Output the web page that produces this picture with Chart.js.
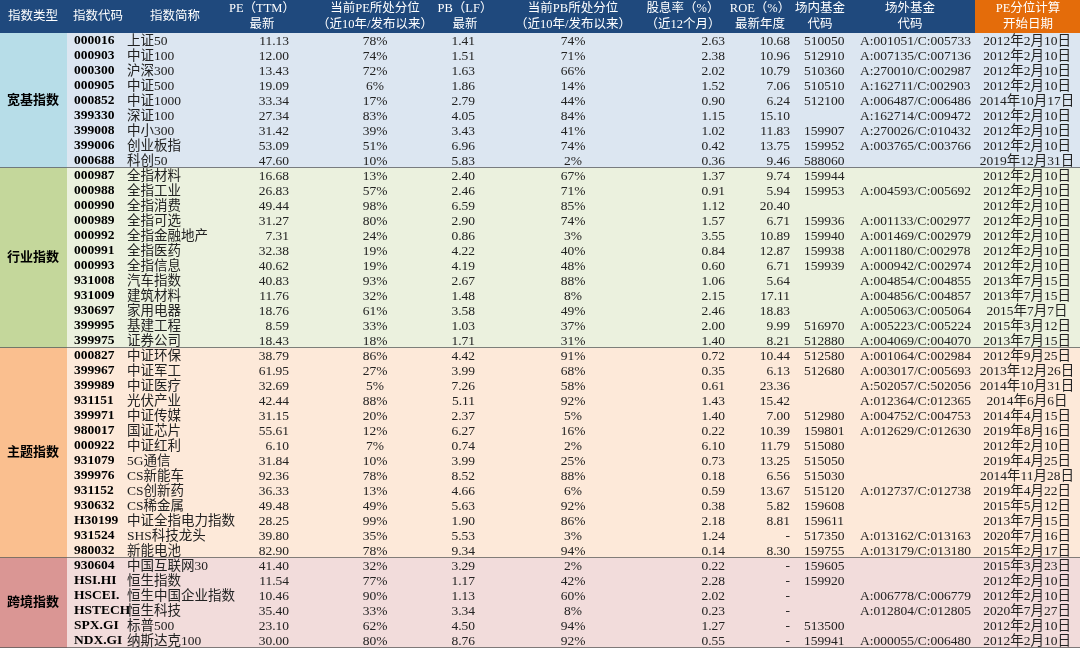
<!DOCTYPE html>
<html><head><meta charset="utf-8">
<script src="https://cdn.jsdelivr.net/npm/chart.js@4"></script>
<style>html,body{margin:0;padding:0;background:#fff}#w{width:1080px;height:648px}</style>
</head><body><div id="w"><canvas id="c"></canvas></div>
<script>
const headers1 = ['指数类型','指数代码','指数简称','PE（TTM）','当前PE所处分位','PB（LF）','当前PB所处分位','股息率（%）','ROE（%）','场内基金','场外基金','PE分位计算'];
const headers2 = ['','','','最新','（近10年/发布以来）','最新','（近10年/发布以来）','（近12个月）','最新年度','代码','代码','开始日期'];
const sections = ['宽基指数','行业指数','主题指数','跨境指数'];
const sectionCounts = [9,12,14,6];
const codes = ['000016','000903','000300','000905','000852','399330','399008','399006','000688',
 '000987','000988','000990','000989','000992','000991','000993','931008','931009','930697','399995','399975',
 '000827','399967','399989','931151','399971','980017','000922','931079','399976','931152','930632','H30199','931524','980032',
 '930604','HSI.HI','HSCEI.','HSTECH','SPX.GI','NDX.GI'];
const names = ['上证50','中证100','沪深300','中证500','中证1000','深证100','中小300','创业板指','科创50',
 '全指材料','全指工业','全指消费','全指可选','全指金融地产','全指医药','全指信息','汽车指数','建筑材料','家用电器','基建工程','证券公司',
 '中证环保','中证军工','中证医疗','光伏产业','中证传媒','国证芯片','中证红利','5G通信','CS新能车','CS创新药','CS稀金属','中证全指电力指数','SHS科技龙头','新能电池',
 '中国互联网30','恒生指数','恒生中国企业指数','恒生科技','标普500','纳斯达克100'];
const pe = ['11.13','12.00','13.43','19.09','33.34','27.34','31.42','53.09','47.60',
 '16.68','26.83','49.44','31.27','7.31','32.38','40.62','40.83','11.76','18.76','8.59','18.43',
 '38.79','61.95','32.69','42.44','31.15','55.61','6.10','31.84','92.36','36.33','49.48','28.25','39.80','82.90',
 '41.40','11.54','10.46','35.40','23.10','30.00'];
const pePct = ['78%','74%','72%','6%','17%','83%','39%','51%','10%',
 '13%','57%','98%','80%','24%','19%','19%','93%','32%','61%','33%','18%',
 '86%','27%','5%','88%','20%','12%','7%','10%','78%','13%','49%','99%','35%','78%',
 '32%','77%','90%','33%','62%','80%'];
const pb = ['1.41','1.51','1.63','1.86','2.79','4.05','3.43','6.96','5.83',
 '2.40','2.46','6.59','2.90','0.86','4.22','4.19','2.67','1.48','3.58','1.03','1.71',
 '4.42','3.99','7.26','5.11','2.37','6.27','0.74','3.99','8.52','4.66','5.63','1.90','5.53','9.34',
 '3.29','1.17','1.13','3.34','4.50','8.76'];
const pbPct = ['74%','71%','66%','14%','44%','84%','41%','74%','2%',
 '67%','71%','85%','74%','3%','40%','48%','88%','8%','49%','37%','31%',
 '91%','68%','58%','92%','5%','16%','2%','25%','88%','6%','92%','86%','3%','94%',
 '2%','42%','60%','8%','94%','92%'];
const divYield = ['2.63','2.38','2.02','1.52','0.90','1.15','1.02','0.42','0.36',
 '1.37','0.91','1.12','1.57','3.55','0.84','0.60','1.06','2.15','2.46','2.00','1.40',
 '0.72','0.35','0.61','1.43','1.40','0.22','6.10','0.73','0.18','0.59','0.38','2.18','1.24','0.14',
 '0.22','2.28','2.02','0.23','1.27','0.55'];
const roe = ['10.68','10.96','10.79','7.06','6.24','15.10','11.83','13.75','9.46',
 '9.74','5.94','20.40','6.71','10.89','12.87','6.71','5.64','17.11','18.83','9.99','8.21',
 '10.44','6.13','23.36','15.42','7.00','10.39','11.79','13.25','6.56','13.67','5.82','8.81','-','8.30',
 '-','-','-','-','-','-'];
const etf = ['510050','512910','510360','510510','512100','','159907','159952','588060',
 '159944','159953','','159936','159940','159938','159939','','','','516970','512880',
 '512580','512680','','','512980','159801','515080','515050','515030','515120','159608','159611','517350','159755',
 '159605','159920','','','513500','159941'];
const otc = ['A:001051/C:005733','A:007135/C:007136','A:270010/C:002987','A:162711/C:002903','A:006487/C:006486','A:162714/C:009472','A:270026/C:010432','A:003765/C:003766','',
 '','A:004593/C:005692','','A:001133/C:002977','A:001469/C:002979','A:001180/C:002978','A:000942/C:002974','A:004854/C:004855','A:004856/C:004857','A:005063/C:005064','A:005223/C:005224','A:004069/C:004070',
 'A:001064/C:002984','A:003017/C:005693','A:502057/C:502056','A:012364/C:012365','A:004752/C:004753','A:012629/C:012630','','','','A:012737/C:012738','','','A:013162/C:013163','A:013179/C:013180',
 '','','A:006778/C:006779','A:012804/C:012805','','A:000055/C:006480'];
const startDate = ['2012年2月10日','2012年2月10日','2012年2月10日','2012年2月10日','2014年10月17日','2012年2月10日','2012年2月10日','2012年2月10日','2019年12月31日',
 '2012年2月10日','2012年2月10日','2012年2月10日','2012年2月10日','2012年2月10日','2012年2月10日','2012年2月10日','2013年7月15日','2013年7月15日','2015年7月7日','2015年3月12日','2013年7月15日',
 '2012年9月25日','2013年12月26日','2014年10月31日','2014年6月6日','2014年4月15日','2019年8月16日','2012年2月10日','2019年4月25日','2014年11月28日','2019年4月22日','2015年5月12日','2013年7月15日','2020年7月16日','2015年2月17日',
 '2015年3月23日','2012年2月10日','2012年2月10日','2020年7月27日','2012年2月10日','2012年2月10日'];

// layout (styles, not data)
const HEADER_H = 33;
const secStrip = ['#b7dde8','#c4d79b','#fabf8f','#da9694'];
const secBody  = ['#dce6f1','#ebf1de','#fde9d9','#f2dcdb'];
const colSpec = [ // [x, align, bold]
 [33,'center',true],[74,'left',true],[127,'left',false],[289,'right',false],[375,'center',false],
 [475,'right',false],[573,'center',false],[725,'right',false],[790,'right',false],[804,'left',false],
 [860,'left',false],[1027,'center',false]];
const headX = [33,98,175,262,375,465,573,683,760,820,910,1028];
const FONT = '"Liberation Serif","Noto Sans CJK SC",serif';

const tablePlugin = {
  id:'table',
  beforeDatasetsDraw(chart){
    const ctx = chart.ctx, y = chart.scales.y, W = chart.width;
    const rowH = Math.abs(y.getPixelForValue(1) - y.getPixelForValue(0));
    const cols = [codes,names,pe,pePct,pb,pbPct,divYield,roe,etf,otc,startDate];
    ctx.save();
    ctx.fillStyle='#1f497d'; ctx.fillRect(0,0,975,HEADER_H);
    ctx.fillStyle='#e46c0a'; ctx.fillRect(975,0,W-975,HEADER_H);
    ctx.fillStyle='#fff'; ctx.textAlign='center'; ctx.textBaseline='middle';
    ctx.font='12.5px '+FONT;
    headers1.forEach((h,i)=>{
      if(headers2[i]){ ctx.fillText(h,headX[i],9); ctx.fillText(headers2[i],headX[i],25); }
      else ctx.fillText(h,headX[i],17);
    });
    let start=0;
    sections.forEach((s,si)=>{
      const n=sectionCounts[si];
      const top=y.getPixelForValue(start)-rowH/2, bot=y.getPixelForValue(start+n-1)+rowH/2;
      ctx.fillStyle=secBody[si]; ctx.fillRect(67,top,W-67,bot-top);
      ctx.fillStyle=secStrip[si]; ctx.fillRect(0,top,67,bot-top);
      ctx.fillStyle='#000'; ctx.font='bold 13px '+FONT; ctx.textAlign='center';
      ctx.fillText(s,33,(top+bot)/2);
      ctx.strokeStyle='#595959'; ctx.lineWidth=1.5;
      ctx.beginPath(); ctx.moveTo(0,bot); ctx.lineTo(W,bot); ctx.stroke();
      start+=n;
    });
    for(let r=0;r<codes.length;r++){
      const py=y.getPixelForValue(r)+0.5;
      cols.forEach((arr,ci)=>{
        const spec=colSpec[ci+1];
        ctx.textAlign=spec[1];
        ctx.font=(spec[2]?'bold 13.5px ':'13.5px ')+FONT;
        ctx.fillStyle=spec[2]?'#000':'#222';
        ctx.fillText(arr[r],spec[0],py);
      });
    }
    ctx.restore();
  }
};

new Chart(document.getElementById('c'),{
  type:'scatter',
  data:{labels:codes,datasets:[{data:[],pointRadius:0}]},
  options:{
    responsive:true,maintainAspectRatio:false,animation:false,
    layout:{padding:{top:HEADER_H,left:0,right:0,bottom:0}},
    plugins:{legend:{display:false},tooltip:{enabled:false}},
    scales:{
      x:{type:'linear',display:false,min:0,max:1},
      y:{type:'category',labels:codes,offset:true,display:false}
    }
  },
  plugins:[tablePlugin]
});
</script></body></html>
